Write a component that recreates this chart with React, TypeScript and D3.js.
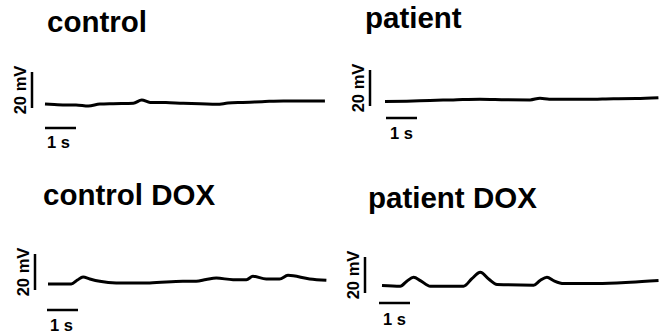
import React from "react";
import * as d3 from "d3";

// panel titles
const titles = ["control", "patient", "control DOX", "patient DOX"];

// traces: time in s, potential in mV (relative to trace start)
const controlT = [0, 0.3, 0.7, 1.0, 1.4, 1.77, 2.2, 2.85, 3.12, 3.39, 3.9, 4.46, 5.0, 5.54, 5.9, 6.29, 7.0, 7.69, 8.3, 9.03];
const controlMv = [0, -0.3, -0.6, -0.5, -1.1, 0, 0.2, 0.4, 2.2, 0.9, 0.8, 0.4, 0.2, -0.2, 0.5, 0.9, 1.3, 1.7, 1.6, 1.7];

const patientT = [0, 0.7, 1.45, 2.2, 3.06, 3.9, 4.68, 5.0, 5.3, 5.75, 6.5, 7.37, 8.1, 8.82];
const patientMv = [0, 0.2, 0.6, 0.9, 1.3, 1.0, 0.9, 1.8, 1.3, 1.3, 1.2, 1.5, 1.6, 2.1];

const controlDoxT = [0, 0.75, 0.95, 1.13, 1.35, 1.67, 2.2, 3.28, 4.35, 4.78, 5.1, 5.43, 5.97, 6.4, 6.61, 7.04, 7.47, 7.74, 8.44, 8.98];
const controlDoxMv = [0, 0, 2.2, 3.9, 2.8, 1.5, 0.6, 0.6, 1.5, 1.5, 2.5, 3.3, 2.4, 2.4, 4.3, 2.8, 2.8, 4.8, 2.8, 2.1];

const patientDoxT = [0, 0.59, 0.8, 1.02, 1.25, 1.56, 2.63, 2.9, 3.17, 3.45, 3.71, 4.89, 5.1, 5.32, 5.55, 5.86, 6.94, 8.01, 8.92];
const patientDoxMv = [0, -0.4, 2.4, 4.6, 2.6, -0.4, -0.4, 3.8, 7.4, 3.5, 0.6, 0.2, 2.8, 4.6, 2.6, 1.1, 1.1, 1.8, 2.8];

const traces = [
  { t: controlT, v: controlMv },
  { t: patientT, v: patientMv },
  { t: controlDoxT, v: controlDoxMv },
  { t: patientDoxT, v: patientDoxMv },
];

// scale bars
const barSeconds = 1;
const barMv = 20;

// layout of each panel on the page
const layout = [
  { titleX: 47, titleY: 32, ox: 45, oy: 104, vbarX: 32, vbarBottom: 108, hbarX: 45, hbarY: 128, sX: 47, sY: 148 },
  { titleX: 365, titleY: 28, ox: 385, oy: 101.5, vbarX: 370, vbarBottom: 106, hbarX: 386, hbarY: 118, sX: 390, sY: 139 },
  { titleX: 43, titleY: 205, ox: 48, oy: 284, vbarX: 35, vbarBottom: 290, hbarX: 47, hbarY: 310, sX: 50, sY: 331 },
  { titleX: 368, titleY: 208, ox: 382, oy: 285.5, vbarX: 365, vbarBottom: 293, hbarX: 379, hbarY: 303, sX: 383, sY: 325 },
];

const font = "'Liberation Sans', Arial, sans-serif";

export default function App() {
  const x = d3.scaleLinear().domain([0, 1]).range([0, 31]);
  const y = d3.scaleLinear().domain([0, 20]).range([0, -36]);

  return (
    <svg
      width={659}
      height={336}
      style={{ position: "absolute", left: 0, top: 0, background: "#fff" }}
      fontFamily={font}
      fontWeight="bold"
    >
      {titles.map((title, i) => {
        const p = layout[i];
        const tr = traces[i];
        const line = d3
          .line<number>()
          .x((_, j) => x(tr.t[j]))
          .y((d) => y(d))
          .curve(d3.curveMonotoneX);
        const vTop = p.vbarBottom + y(barMv);
        return (
          <g key={title}>
            <text x={p.titleX} y={p.titleY} fontSize={29.5} fill="#000">
              {title}
            </text>
            <g transform={`translate(${p.ox},${p.oy})`}>
              <path d={line(tr.v) || ""} fill="none" stroke="#000" strokeWidth={3} strokeLinejoin="round" />
            </g>
            <line x1={p.vbarX} x2={p.vbarX} y1={p.vbarBottom} y2={vTop} stroke="#000" strokeWidth={2.5} />
            <text
              transform={`translate(${p.vbarX - 6.5},${(p.vbarBottom + vTop) / 2}) rotate(-90)`}
              textAnchor="middle"
              fontSize={16.5}
              fill="#000"
            >
              {barMv} mV
            </text>
            <line x1={p.hbarX} x2={p.hbarX + x(barSeconds)} y1={p.hbarY} y2={p.hbarY} stroke="#000" strokeWidth={2.5} />
            <text x={p.sX} y={p.sY} fontSize={16.5} fill="#000">
              {barSeconds} s
            </text>
          </g>
        );
      })}
    </svg>
  );
}
